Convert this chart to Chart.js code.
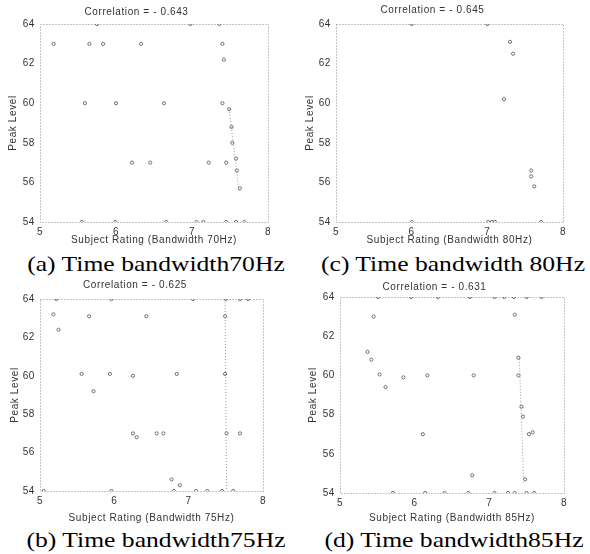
<!DOCTYPE html>
<html>
<head>
<meta charset="utf-8">
<script src="https://cdn.jsdelivr.net/npm/chart.js@4.4.1/dist/chart.umd.min.js"></script>
<style>
  html, body { margin: 0; padding: 0; background: #fff; }
  body { width: 590px; height: 554px; position: relative; overflow: hidden; }
  canvas { position: absolute; }
  .cap { position: absolute; font-family: "Liberation Serif", "Times New Roman", serif; font-size: 21px; color: #000; white-space: nowrap; transform: translate(-50%, -50%) scaleX(1.22); line-height: 1; }
</style>
</head>
<body>
<canvas id="ca"></canvas>
<canvas id="cc"></canvas>
<canvas id="cb"></canvas>
<canvas id="cd"></canvas>
<div class="cap" id="capA">(a) Time bandwidth70Hz</div>
<div class="cap" id="capC">(c) Time bandwidth 80Hz</div>
<div class="cap" id="capB">(b) Time bandwidth75Hz</div>
<div class="cap" id="capD">(d) Time bandwidth85Hz</div>
<script>
// ---------- data ----------
const xTicks = [5, 6, 7, 8];
const yTicks = [54, 56, 58, 60, 62, 64];

const titleA = "Correlation = - 0.643";
const ratingA = [5.18,5.65,5.83,6.33,5.75,6.98,7.36,7.40,7.42,5.59,6.00,6.63,7.40,7.49,7.52,7.53,6.21,6.45,7.22,7.45,7.58,7.59,7.63,5.55,5.99,6.66,7.06,7.15,7.45,7.58,7.69];
const peakA   = [63,63,63,63,64,64,64,63,62.2,60,60,60,60,59.7,58.8,58,57,57,57,57,57.2,56.6,55.7,54,54,54,54,54,54,54,54];
const trendAx = [7.49, 7.62];
const trendAy = [59.7, 55.5];

const titleC = "Correlation = - 0.645";
const ratingC = [6.00,7.00,7.30,7.34,7.22,7.58,7.58,7.62,6.00,7.01,7.06,7.10,7.71];
const peakC   = [64,64,63.1,62.5,60.2,56.6,56.3,55.8,54,54,54,54,54];

const titleB = "Correlation = - 0.625";
const ratingB = [5.18,5.25,5.66,6.43,7.49,5.56,5.94,6.25,6.84,7.49,5.72,6.25,6.30,6.57,6.66,7.51,7.69,6.77,6.88,5.22,5.96,7.06,7.50,7.69,7.80,5.05,5.96,6.80,7.10,7.25,7.45,7.60];
const peakB   = [63.2,62.4,63.1,63.1,63.1,60.1,60.1,60,60.1,60.1,59.2,57,56.8,57,57,57,57,54.6,54.3,64,64,64,64,64,64,54,54,54,54,54,54,54];
const trendBx = [7.49, 7.51];
const trendBy = [64, 54];

const titleD = "Correlation = - 0.631";
const ratingD = [5.45,5.37,5.42,5.53,5.61,5.85,6.17,6.79,6.11,6.77,7.34,7.39,7.39,7.43,7.45,7.53,7.58,7.48,7.33,5.51,5.95,6.31,6.74,7.07,7.20,7.50,7.70,5.71,6.14,6.40,6.72,7.07,7.25,7.34,7.50,7.60];
const peakD   = [63,61.2,60.8,60.05,59.4,59.9,60,60,57,54.9,63.1,60.9,60,58.4,57.9,57,57.1,54.7,64,64,64,64,64,64,64,64,64,54,54,54,54,54,54,54,54,54];
const trendDx = [7.40, 7.46];
const trendDy = [61, 54.5];

const xLabelA = "Subject Rating (Bandwidth 70Hz)";
const xLabelB = "Subject Rating (Bandwidth 75Hz)";
const xLabelC = "Subject Rating (Bandwidth 80Hz)";
const xLabelD = "Subject Rating (Bandwidth 85Hz)";
const yLabel = "Peak Level";

// ---------- helpers ----------
const FONT = "'Liberation Sans', Arial, sans-serif";
const LH = 1.2;

const framePlugin = {
  id: 'frame',
  beforeDraw(chart) {
    chart.ctx.letterSpacing = '0.6px';
  },
  beforeDatasetsDraw(chart) {
    const a = chart.chartArea, ctx = chart.ctx;
    ctx.save();
    ctx.strokeStyle = '#8a8a8a';
    ctx.lineWidth = 1;
    ctx.setLineDash([1, 2]);
    ctx.strokeRect(Math.round(a.left) + 0.5, Math.round(a.top) + 0.5, Math.round(a.right - a.left), Math.round(a.bottom - a.top));
    ctx.restore();
  }
};

function pts(xs, ys) { return xs.map((x, i) => ({ x: x, y: ys[i] })); }

function panel(id, geo, title, xLabel, xs, ys, tx, ty) {
  const cv = document.getElementById(id);
  const fs = 10, lh = fs * LH;
  const left = geo.yTitleX - lh / 2 - 2;
  const top = geo.titleY - lh / 2 - 2;
  const bottom = geo.xTitleY + lh / 2 + 2;
  const right = geo.R + 14;
  const w = Math.round(right - left), h = Math.round(bottom - top);
  cv.style.left = left + 'px'; cv.style.top = top + 'px';
  cv.style.width = w + 'px'; cv.style.height = h + 'px';
  cv.width = w; cv.height = h;
  const yW = geo.L - left;
  const xH = h - (geo.B - top);
  const titlePadBottom = (geo.T - top) - 2 - lh;

  const datasets = [{
    type: 'scatter',
    data: pts(xs, ys),
    pointStyle: 'circle',
    pointRadius: 1.6,
    borderWidth: 1,
    borderColor: '#6f6f6f',
    backgroundColor: 'rgba(0,0,0,0)'
  }];
  if (tx) {
    datasets.push({
      type: 'line',
      data: pts(tx, ty),
      borderColor: '#9a9a9a',
      borderWidth: 1,
      borderDash: [1, 2],
      pointRadius: 0,
      fill: false
    });
  }
  new Chart(cv, {
    type: 'scatter',
    data: { datasets: datasets },
    plugins: [framePlugin],
    options: {
      responsive: false,
      animation: false,
      devicePixelRatio: 1,
      layout: { padding: { left: 0, right: 14, top: 0, bottom: 0 } },
      plugins: {
        legend: { display: false },
        tooltip: { enabled: false },
        title: {
          display: true,
          text: title,
          color: '#333',
          font: { family: FONT, size: fs, weight: 'normal', lineHeight: LH },
          padding: { top: 2, bottom: titlePadBottom }
        }
      },
      scales: {
        x: {
          type: 'linear', min: 5, max: 8,
          afterBuildTicks: s => { s.ticks = xTicks.map(v => ({ value: v })); },
          afterFit: s => { s.height = xH; },
          grid: { display: false, drawTicks: true, tickLength: 3 },
          border: { display: false },
          ticks: { color: '#333', font: { family: FONT, size: 10 }, padding: 1, maxRotation: 0 },
          title: { display: true, text: xLabel, color: '#333', font: { family: FONT, size: fs, lineHeight: LH }, padding: { top: 0, bottom: 2 } }
        },
        y: {
          type: 'linear', min: 54, max: 64,
          afterBuildTicks: s => { s.ticks = yTicks.map(v => ({ value: v })); },
          afterFit: s => { s.width = yW; },
          grid: { display: false, drawTicks: true, tickLength: 3 },
          border: { display: false },
          ticks: { color: '#333', font: { family: FONT, size: 10 }, padding: 2 },
          title: { display: true, text: yLabel, color: '#333', font: { family: FONT, size: fs, lineHeight: LH }, padding: { top: 2, bottom: 0 } }
        }
      }
    }
  });
}

panel('ca', { L: 40, T: 24, R: 268, B: 222, titleY: 12, xTitleY: 240, yTitleX: 13 }, titleA, xLabelA, ratingA, peakA, trendAx, trendAy);
panel('cc', { L: 336, T: 24, R: 563, B: 222, titleY: 10, xTitleY: 240, yTitleX: 310 }, titleC, xLabelC, ratingC, peakC, null, null);
panel('cb', { L: 40, T: 299, R: 263, B: 491, titleY: 285, xTitleY: 518, yTitleX: 15 }, titleB, xLabelB, ratingB, peakB, trendBx, trendBy);
panel('cd', { L: 340, T: 297, R: 564, B: 493, titleY: 287, xTitleY: 518, yTitleX: 313 }, titleD, xLabelD, ratingD, peakD, trendDx, trendDy);

function place(id, x, y) { const e = document.getElementById(id); e.style.left = x + 'px'; e.style.top = y + 'px'; }
place('capA', 156, 264);
place('capC', 453, 264);
place('capB', 156, 540);
place('capD', 454, 540);
</script>
</body>
</html>
